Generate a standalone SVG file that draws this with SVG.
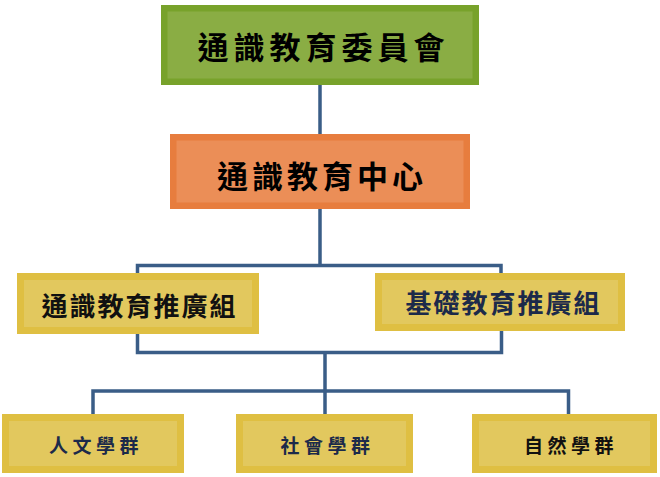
<svg xmlns="http://www.w3.org/2000/svg" width="660" height="477" viewBox="0 0 660 477">
<style>
.lbl{font-family:"Noto Sans CJK TC","Noto Sans CJK SC",sans-serif;font-weight:bold;text-anchor:middle}
.conn{fill:none;stroke:#3a5d87;stroke-width:3.5;stroke-linejoin:miter}
.g-out{fill:#78a22b}.g-in{fill:#8aad44}
.o-out{fill:#e77d3e}.o-in{fill:#eb8e57}
.y-out{fill:#dfbf42}.y-in{fill:#e2c85e}
</style>
<rect width="660" height="477" fill="#ffffff"/>
<g id="connectors" class="conn">
<path d="M320 85V134M320 209V265.5M137.5 273V265.5H501V273"/>
<path d="M137.5 334V352.5H501.5V331M325 352.5V414M93 414V391H568.5V414"/>
</g>
<g id="n1">
<rect class="g-out" x="161" y="5" width="318" height="80"/>
<rect class="g-in" x="167.5" y="11.5" width="305" height="67"/>
<text class="lbl" x="323.5" y="59.3" font-size="31" letter-spacing="5" fill="#000">通識教育委員會</text>
</g>
<g id="n2">
<rect class="o-out" x="170" y="134" width="300" height="75"/>
<rect class="o-in" x="176.5" y="140.5" width="287" height="62"/>
<text class="lbl" x="322" y="187.6" font-size="31" letter-spacing="4" fill="#000">通識教育中心</text>
</g>
<g id="n3">
<rect class="y-out" x="17" y="273" width="242" height="61"/>
<rect class="y-in" x="24" y="280" width="228" height="47"/>
<text class="lbl" x="139.5" y="316" font-size="26" letter-spacing="2" fill="#111">通識教育推廣組</text>
</g>
<g id="n4">
<rect class="y-out" x="375" y="273" width="250" height="58"/>
<rect class="y-in" x="382" y="280" width="236" height="44"/>
<text class="lbl" x="503.5" y="313.2" font-size="26" letter-spacing="2" fill="#1c2a4a">基礎教育推廣組</text>
</g>
<g id="n5">
<rect class="y-out" x="2" y="414" width="182" height="59"/>
<rect class="y-in" x="9" y="421" width="168" height="45"/>
<text class="lbl" x="96" y="453.2" font-size="19" letter-spacing="4.5" fill="#1c2a4a">人文學群</text>
</g>
<g id="n6">
<rect class="y-out" x="236" y="414" width="177" height="59"/>
<rect class="y-in" x="243" y="421" width="163" height="45"/>
<text class="lbl" x="327.5" y="453.2" font-size="19" letter-spacing="4.5" fill="#1c2a4a">社會學群</text>
</g>
<g id="n7">
<rect class="y-out" x="472" y="414" width="185" height="59"/>
<rect class="y-in" x="479" y="421" width="171" height="45"/>
<text class="lbl" x="571" y="453.2" font-size="19" letter-spacing="4.5" fill="#111">自然學群</text>
</g>
</svg>
